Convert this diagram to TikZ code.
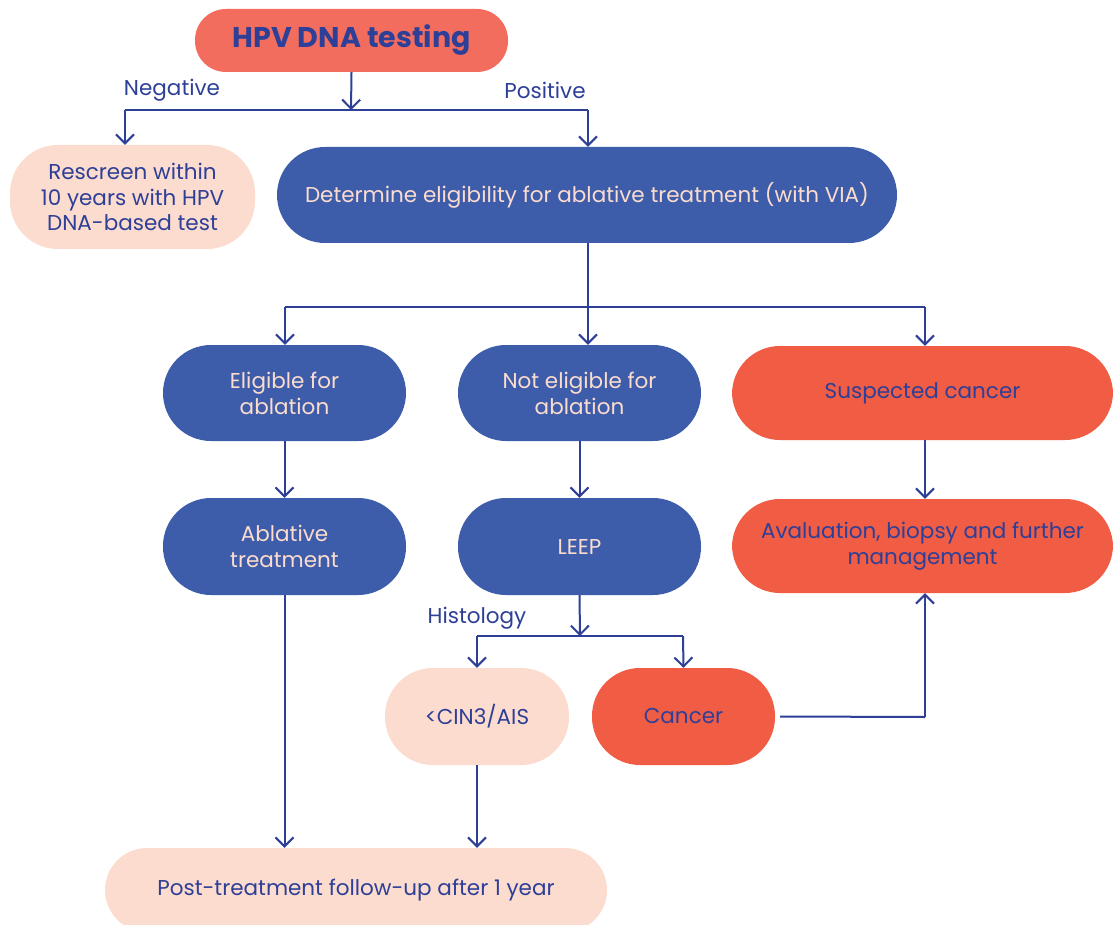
\documentclass[tikz,border=0pt]{standalone}
\usepackage{fontspec}
\setmainfont{Poppins}
\usetikzlibrary{arrows.meta}
\definecolor{navy}{HTML}{2E3F97}
\definecolor{bluefill}{HTML}{3D5DAB}
\definecolor{peach}{HTML}{FBDCCE}
\definecolor{salmon}{HTML}{F36D5E}
\definecolor{redfill}{HTML}{F05C44}
\tikzset{
  pill/.style={rounded corners=#1, inner sep=0pt, align=center,
    font=\fontsize{21.5}{25.8}\selectfont},
  bluepill/.style={pill=48pt, fill=bluefill, text=peach},
  peachpill/.style={pill=48pt, fill=peach, text=navy},
  redpill/.style={pill=48pt, fill=redfill, text=navy},
  conn/.style={draw=navy, line width=2pt},
  arr/.style={conn, -{Straight Barb[length=9pt,width=18pt,line width=2pt]}},
  lbl/.style={text=navy, font=\fontsize{21.5}{25.8}\selectfont, inner sep=0pt},
}
\begin{document}
\begin{tikzpicture}[x=1pt,y=-1pt]
\useasboundingbox (0,0) rectangle (1113,925);
\fill[white] (0,0) rectangle (1113,925);

% nodes
\node[pill=31pt, fill=salmon, text=navy, minimum width=313pt, minimum height=63pt,
      font=\fontsize{28.5}{32}\selectfont\bfseries] (hpv) at (351.5,40.5) {HPV DNA testing};
\node[peachpill, minimum width=245pt, minimum height=104pt] (rescreen) at (132.5,197)
  {Rescreen within\\10 years with HPV\\DNA-based test};
\node[bluepill, minimum width=620pt, minimum height=96pt] (determine) at (587,195)
  {Determine eligibility for ablative treatment (with VIA)};
\node[bluepill, minimum width=243pt, minimum height=96pt] (elig) at (284.5,393)
  {Eligible for\\ablation};
\node[bluepill, minimum width=243pt, minimum height=96pt] (noteli) at (579.5,393)
  {Not eligible for\\ablation};
\node[redpill, minimum width=381pt, minimum height=94pt] (susp) at (922.5,393)
  {Suspected cancer};
\node[bluepill, minimum width=243pt, minimum height=97pt] (ablat) at (284.5,546.5)
  {Ablative\\treatment};
\node[bluepill, minimum width=243pt, minimum height=97pt] (leep) at (579.5,546.5)
  {LEEP};
\node[redpill, minimum width=381pt, minimum height=94pt] (aval) at (922.5,546)
  {Avaluation, biopsy and further\\management};
\node[peachpill, minimum width=184pt, minimum height=97pt] (cin) at (477,716.5)
  {<CIN3/AIS};
\node[redpill, minimum width=183pt, minimum height=97pt] (cancer) at (683.5,716.5)
  {Cancer};
\node[pill=42pt, fill=peach, text=navy, minimum width=502pt, minimum height=84pt] (post) at (356,890)
  {Post-treatment follow-up after 1 year};

% branch points
\coordinate (s1) at (351,110);
\coordinate (s1l) at (125,110);
\coordinate (s1r) at (588,110);
\coordinate (s2) at (588,307);
\coordinate (s2l) at (285,307);
\coordinate (s2r) at (925,307);
\coordinate (s3) at (580,636);
\coordinate (s3l) at (477,636);
\coordinate (s3r) at (683,636);
\coordinate (cr) at (925,717);

% labels
\node[lbl] (neg) at (172,90) {Negative};
\node[lbl] (pos) at (545,90) {Positive};
\node[lbl] (hist) at (477,618) {Histology};

% connectors
\draw[arr] (hpv.south) -- (s1);
\draw[conn] (s1l) -- (s1r);
\draw[arr] (s1l) -- (rescreen.north -| s1l);
\draw[arr] (s1r) -- (determine.north -| s1r);

\draw[arr] (determine.south -| s2) -- (noteli.north -| s2);
\draw[conn] (s2l) -- (s2r);
\draw[arr] (s2l) -- (elig.north -| s2l);
\draw[arr] (s2r) -- (susp.north -| s2r);

\draw[arr] (elig.south) -- (ablat.north);
\draw[arr] (noteli.south) -- (leep.north);
\draw[arr] (susp.south -| s2r) -- (aval.north -| s2r);

\draw[arr] (leep.south) -- (s3);
\draw[conn] (s3l) -- (s3r);
\draw[arr] (s3l) -- (cin.north);
\draw[arr] (s3r) -- (cancer.north);

\draw[conn] ([xshift=5pt]cancer.east) -- (cr);
\draw[arr] (cr) -- (aval.south -| cr);

\draw[arr] (ablat.south) -- (post.north -| ablat.south);
\draw[arr] (cin.south) -- (post.north -| cin.south);
\end{tikzpicture}
\end{document}
